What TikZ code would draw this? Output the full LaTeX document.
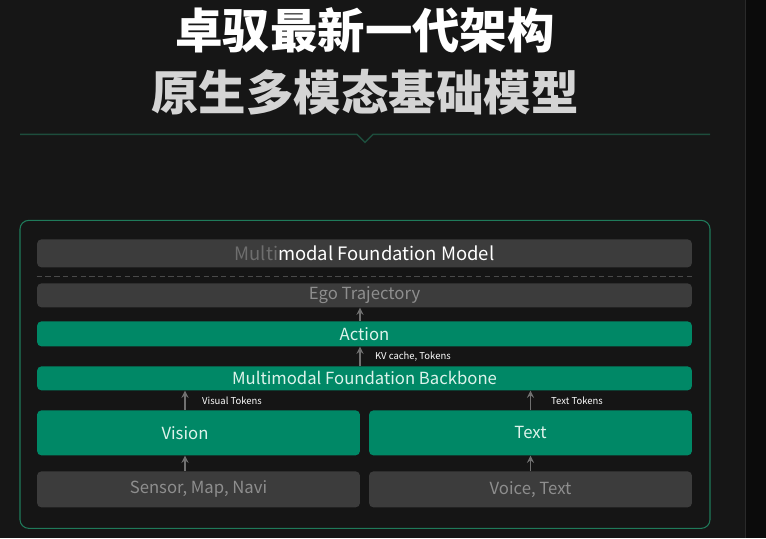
\documentclass[tikz,border=0pt]{standalone}
\usepackage{fontspec}
\setmainfont{Noto Sans CJK SC}
\usepackage{xcolor}
\usetikzlibrary{arrows,positioning,calc}

\definecolor{bgdark}{HTML}{161616}
\definecolor{stripdark}{HTML}{0B0B0B}
\definecolor{stripline}{HTML}{2A2A2A}
\definecolor{sepgreen}{HTML}{1D4D3C}
\definecolor{outergreen}{HTML}{1F7A5A}
\definecolor{panelbg}{HTML}{151515}
\definecolor{boxgrey}{HTML}{3C3C3C}
\definecolor{boxgreen}{HTML}{008866}
\definecolor{greentext}{HTML}{DDF3EB}
\definecolor{mutedgrey}{HTML}{8E8E8E}
\definecolor{arrowgrey}{HTML}{707070}
\definecolor{dashgrey}{HTML}{4A4A4A}
\definecolor{titlegrey}{HTML}{D4D4D4}
\definecolor{blurgrey}{HTML}{6E6E6E}

\begin{document}
\begin{tikzpicture}[
    x=0.02cm, y=-0.02cm,
    panel/.style={rectangle, rounded corners=2.5pt, minimum width=13.1cm, inner sep=0pt, text centered, font=\fontsize{9.5}{11}\selectfont},
    greybox/.style={panel, fill=boxgrey, text=white},
    greenbox/.style={panel, fill=boxgreen, text=greentext},
    halfbox/.style={minimum width=6.46cm},
    arrow/.style={->, >=stealth, draw=arrowgrey, line width=0.8pt},
    tag/.style={anchor=west, text=white, font=\fontsize{5.4}{6}\selectfont},
    heading/.style={font=\bfseries\fontsize{27}{30}\selectfont}
]
    % Background and right strip
    \fill[bgdark] (0,0) rectangle (766,538);
    \fill[stripdark] (745,0) rectangle (766,538);
    \draw[stripline] (745,0) -- (745,538);
    \useasboundingbox (0,0) rectangle (766,538);

    % Title
    \node[heading, text=white] (title1) at (365,30) {卓驭最新一代架构};
    \node[heading, text=titlegrey] (title2) at (365,92) {原生多模态基础模型};
    \draw[sepgreen, line width=0.8pt] (20,134) -- (357,134) -- (365,142) -- (373,134) -- (710,134);

    % Outer panel
    \draw[outergreen, fill=panelbg, rounded corners=5pt, line width=0.6pt] (20,220) rectangle (710,528);

    % Upper stack
    \node[greybox, minimum height=0.56cm, font=\fontsize{10.5}{12}\selectfont] (model) at (364.5,253) {\textcolor{blurgrey}{Multi}modal Foundation Model};
    \draw[dashgrey, dash pattern=on 3pt off 2pt] ($(model.south west)+(0,9)$) -- ($(model.south east)+(0,9)$);
    \node[greybox, text=mutedgrey, minimum height=0.48cm] (ego) at (364.5,295) {Ego Trajectory};
    \node[greenbox, minimum height=0.5cm] (action) at (364.5,333.5) {Action};
    \node[greenbox, minimum height=0.48cm] (backbone) at (364.5,378) {Multimodal Foundation Backbone};

    % Inputs (two columns)
    \node[greenbox, halfbox, minimum height=0.9cm] (vision) at (198.5,432.5) {};
    \node[text=greentext, font=\fontsize{9.5}{11}\selectfont] (visionlbl) at (185,432.5) {Vision};
    \node[greenbox, halfbox, minimum height=0.9cm] (text) at (530.5,432.5) {Text};
    \node[greybox, halfbox, text=mutedgrey, minimum height=0.72cm] (sensor) at (198.5,489) {Sensor, Map, Navi};
    \node[greybox, halfbox, text=mutedgrey, minimum height=0.72cm] (voice) at (530.5,489) {Voice, Text};

    % Arrows
    \draw[arrow] ([xshift=-0.09cm]action.north) -- ([xshift=-0.09cm]ego.south);
    \draw[arrow] ([xshift=-0.09cm]backbone.north) -- ([xshift=-0.09cm]action.south);
    \draw[arrow] (visionlbl |- vision.north) -- (visionlbl |- backbone.south);
    \draw[arrow] (text.north) -- (text.north |- backbone.south);
    \draw[arrow] (visionlbl |- sensor.north) -- (visionlbl |- vision.south);
    \draw[arrow] (voice.north) -- (text.south);

    % Arrow labels
    \node[tag] (kvtag) at (369,356) {KV cache, Tokens};
    \node[tag] (visualtag) at (196,400) {Visual Tokens};
    \node[tag] (texttag) at (545,400) {Text Tokens};
\end{tikzpicture}
\end{document}
